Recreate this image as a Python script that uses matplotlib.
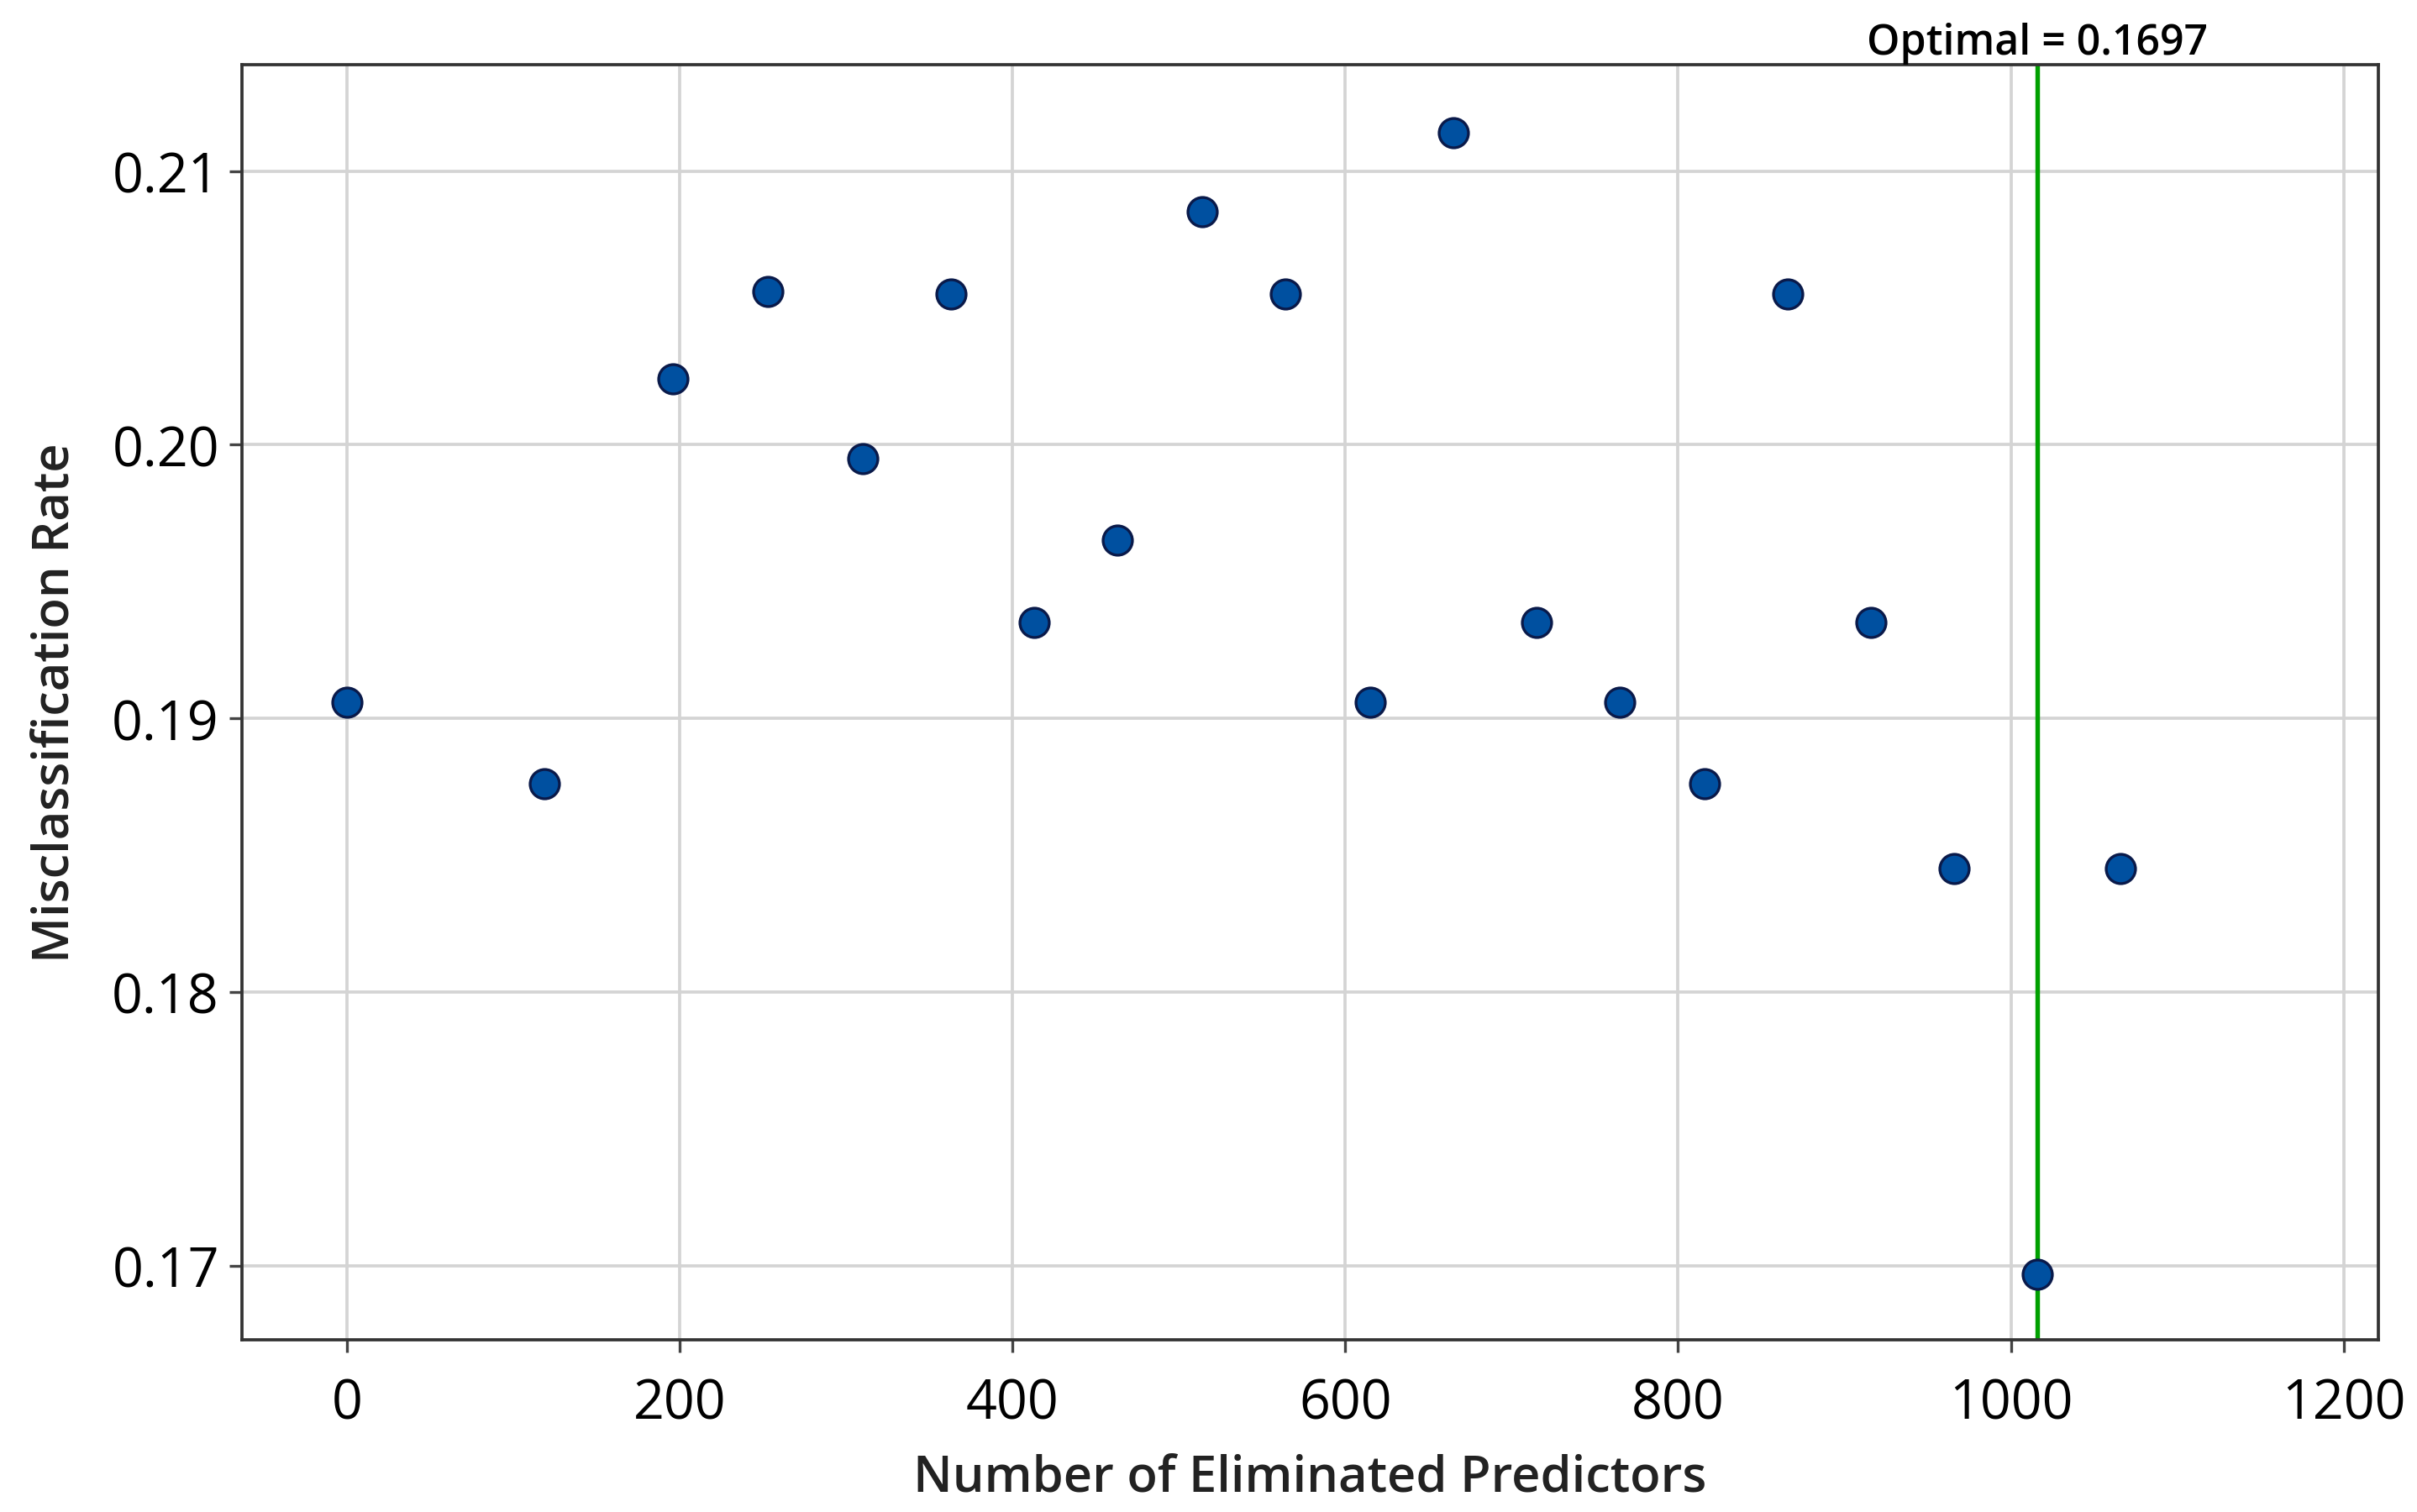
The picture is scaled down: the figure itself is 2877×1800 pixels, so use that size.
import matplotlib
matplotlib.use("Agg")
import matplotlib.pyplot as plt

plt.rcParams["font.family"] = ["Open Sans", "DejaVu Sans"]

# ====== data ======
eliminated = [0, 119, 196, 253, 310, 363, 413, 463, 514, 564,
              615, 665, 715, 765, 816, 866, 916, 966, 1016, 1066]
misclass = [0.1906, 0.1876, 0.2024, 0.2056, 0.1995, 0.2055, 0.1935, 0.1965, 0.2085, 0.2055,
            0.1906, 0.2114, 0.1935, 0.1906, 0.1876, 0.2055, 0.1935, 0.1845, 0.1697, 0.1845]
optimal_x = 1016
optimal_label = "Optimal = 0.1697"
x_ticks = [0, 200, 400, 600, 800, 1000, 1200]
y_ticks = [0.17, 0.18, 0.19, 0.20, 0.21]
y_ticklabels = ["0.17", "0.18", "0.19", "0.20", "0.21"]

fig = plt.figure(figsize=(9.59, 6.003), dpi=300)
ax = fig.add_axes([0.1001, 0.114, 0.884, 0.843])

ax.grid(True, color="#d4d4d4", linewidth=0.9)
ax.set_axisbelow(True)

ax.axvline(optimal_x, color="#00a000", linewidth=1.3, zorder=2)
ax.scatter(eliminated, misclass, s=70, color="#0050a0",
           edgecolor="#0a1a4a", linewidth=0.8, zorder=3)

ax.text(optimal_x, 1.0, optimal_label, ha="center", va="bottom",
        transform=ax.get_xaxis_transform(),
        fontsize=12, fontweight="semibold", clip_on=False)

ax.set_xlim(-63, 1221)
ax.set_ylim(0.1673, 0.2139)
ax.set_xticks(x_ticks)
ax.set_yticks(y_ticks)
ax.set_yticklabels(y_ticklabels)
ax.tick_params(labelsize=15.5, length=3.5, width=0.8, color="#444444")
ax.tick_params(axis="x", pad=7)
ax.tick_params(axis="y", pad=3)
for lab in ax.get_xticklabels() + ax.get_yticklabels():
    lab.set_fontweight("medium")

for s in ax.spines.values():
    s.set_color("#333333")
    s.set_linewidth(0.9)

ax.set_xlabel("Number of Eliminated Predictors", fontsize=14.3,
              fontweight="semibold", color="#222222", labelpad=6)
ax.set_ylabel("Misclassification Rate", fontsize=14.3,
              fontweight="semibold", color="#222222", labelpad=9)

fig.savefig("out.png", dpi=300)
